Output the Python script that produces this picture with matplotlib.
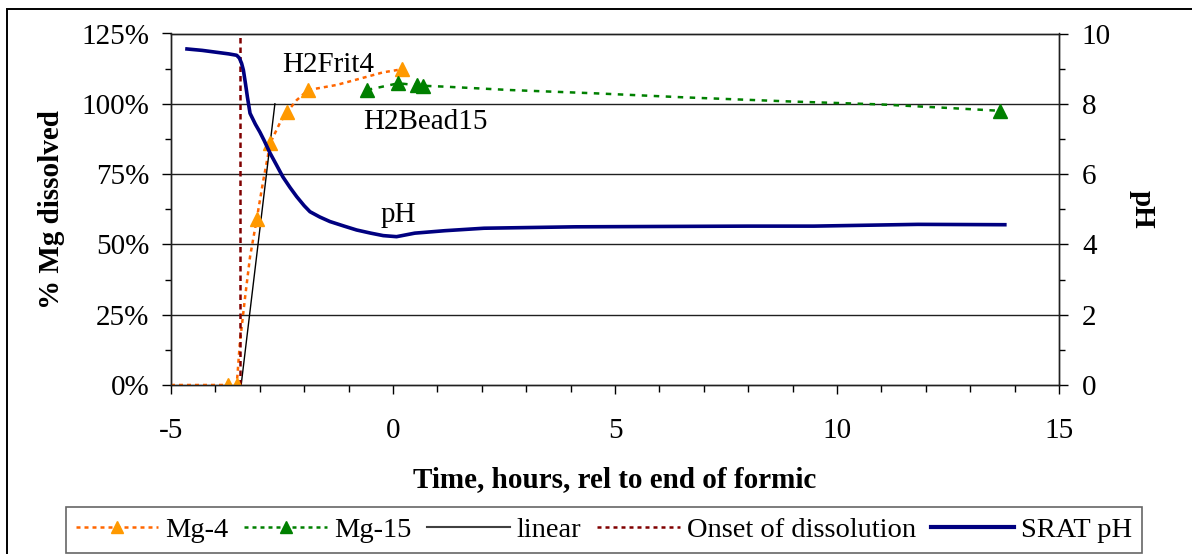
import matplotlib
matplotlib.use("Agg")
import matplotlib.pyplot as plt
from matplotlib.ticker import MultipleLocator, FuncFormatter
from matplotlib.lines import Line2D
from matplotlib.patches import Rectangle

plt.rcParams['font.family'] = ['Liberation Serif', 'DejaVu Serif']
plt.rcParams['axes.unicode_minus'] = False

# ---- data ----
# Mg-4 (H2Frit4) measured points, % dissolved
mg4_t = [-3.71, -3.52, -3.07, -2.76, -2.38, -1.91, 0.21]
mg4_v = [0.0, 0.0, 58.9, 86.2, 97.2, 104.9, 112.3]
# Mg-4 smoothed dotted curve
mg4_curve_t = [-5.0, -3.71, -3.52, -3.45, -3.33, -3.22, -3.07, -2.92, -2.76, -2.55,
               -2.38, -2.17, -1.91, -1.27, -0.59, -0.22, 0.21]
mg4_curve_v = [0.0, 0.0, 0.0, 14.8, 31.4, 45.6, 58.9, 72.9, 86.2, 93.1,
               97.2, 101.3, 104.9, 106.7, 109.6, 111.2, 112.3]

# Mg-15 (H2Bead15) measured points
mg15_t = [-0.59, 0.12, 0.55, 0.68, 13.68]
mg15_v = [104.9, 107.3, 106.6, 106.4, 97.5]
# Mg-15 dotted curve
mg15_curve_t = [-0.59, 0.12, 0.55, 0.68, 1.17, 2.63, 4.59, 6.55, 8.99, 10.95, 12.41, 13.68]
mg15_curve_v = [104.9, 107.3, 106.6, 106.4, 106.1, 104.9, 103.7, 102.3, 100.8, 99.8, 98.6, 97.5]

# linear fit
linear_t = [-3.42, -2.66]
linear_v = [0.0, 100.0]

# onset of dissolution
onset_t = -3.45

# SRAT pH
ph_t = [-4.64, -4.3, -4.0, -3.7, -3.52, -3.46, -3.41, -3.37, -3.32, -3.28, -3.22,
        -3.1, -3.0, -2.9, -2.77, -2.62, -2.48, -2.32, -2.17, -2.0, -1.87, -1.65,
        -1.42, -1.1, -0.82, -0.5, -0.22, 0.08, 0.49, 1.17, 2.05, 4.1, 6.0,
        8.0, 9.48, 11.82, 13.78]
ph_v = [9.56, 9.52, 9.47, 9.42, 9.38, 9.3, 9.15, 8.96, 8.55, 8.2, 7.73,
        7.42, 7.2, 6.95, 6.6, 6.25, 5.92, 5.62, 5.36, 5.1, 4.93, 4.78,
        4.65, 4.52, 4.41, 4.32, 4.25, 4.22, 4.32, 4.39, 4.46, 4.5, 4.51,
        4.52, 4.52, 4.57, 4.56]

yticks_pct = [0, 25, 50, 75, 100, 125]
xticks = [-5, 0, 5, 10, 15]
ph_ticks = [0, 2, 4, 6, 8, 10]

# ---- figure ----
W, H = 1192, 554
fig = plt.figure(figsize=(W / 100, H / 100), dpi=100)
ax = fig.add_axes([171 / W, 1 - 385 / H, (1059 - 171) / W, (385 - 33.5) / H])
ax2 = ax.twinx()

orange_line = '#FF6600'
orange_mark = '#FF9900'
green = '#008000'
navy = '#000080'
dred = '#800000'

# grid lines
for v in yticks_pct[1:]:
    ax.axhline(v, color='#202020', lw=1.0, zorder=1)

ax.plot(mg4_curve_t, mg4_curve_v, color=orange_line, lw=1.8, ls=(0, (1.6, 1.6)), zorder=3)
ax.plot(mg4_t, mg4_v, ls='none', marker='^', ms=10, color=orange_mark, mec=orange_mark, zorder=5)
ax.plot(mg15_curve_t, mg15_curve_v, color=green, lw=1.8, ls=(0, (2.2, 2.6)), zorder=3)
ax.plot(mg15_t, mg15_v, ls='none', marker='^', ms=10, color=green, mec=green, zorder=5)
ax.plot(linear_t, linear_v, color='black', lw=1.0, zorder=4)
ax.plot([onset_t, onset_t], [0, 125], color=dred, lw=1.8, ls=(0, (2.2, 1.6)), zorder=4)

ax2.plot(ph_t, ph_v, color=navy, lw=2.6, zorder=4)

ax.set_xlim(-5, 15)
ax.set_ylim(0, 125)
ax2.set_ylim(0, 10)
ax.set_xticks(xticks)
ax.xaxis.set_minor_locator(MultipleLocator(1))
ax.set_yticks(yticks_pct)
ax.yaxis.set_minor_locator(MultipleLocator(12.5))
ax.yaxis.set_major_formatter(FuncFormatter(lambda v, p: f"{int(v)}%"))
ax2.set_yticks(ph_ticks)
ax2.yaxis.set_minor_locator(MultipleLocator(1))

fs = 21
ax.tick_params(axis='both', which='major', direction='out', length=6.5, width=1.0,
               labelsize=fs)
ax.tick_params(axis='both', which='minor', direction='out', length=4.5, width=1.0)
ax.tick_params(axis='x', which='minor', length=5)
ax.tick_params(axis='y', which='major', pad=9)
ax.tick_params(axis='x', which='major', pad=17)
ax2.tick_params(axis='y', which='major', direction='out', length=6.5, width=1.0,
                labelsize=fs, pad=10)
ax2.tick_params(axis='y', which='minor', direction='out', length=4.5, width=1.0)

for a in (ax, ax2):
    for s in a.spines.values():
        s.set_color('#202020')
        s.set_linewidth(1.0)

ax.set_xlabel('Time, hours, rel to end of formic', fontsize=21, fontweight='bold', labelpad=16)
ax.set_ylabel('% Mg dissolved', fontsize=21, fontweight='bold', labelpad=12)
ax2.set_ylabel('pH', fontsize=21, fontweight='bold', rotation=-90, labelpad=32)

ax.text(-1.46, 113.8, 'H2Frit4', fontsize=21, ha='center', va='center', zorder=6)
ax.text(0.72, 93.4, 'H2Bead15', fontsize=21, ha='center', va='center', zorder=6)
ax.text(0.11, 60.5, 'pH', fontsize=21, ha='center', va='center', zorder=6)

handles = [
    Line2D([], [], color=orange_line, lw=1.8, ls=(0, (1.6, 1.6)), marker='^', ms=9,
           mfc=orange_mark, mec=orange_mark),
    Line2D([], [], color=green, lw=1.8, ls=(0, (1.6, 1.6)), marker='^', ms=9,
           mfc=green, mec=green),
    Line2D([], [], color='#404040', lw=1.5),
    Line2D([], [], color=dred, lw=1.8, ls=(0, (1.6, 1.6))),
    Line2D([], [], color=navy, lw=3.0),
]
labels = ['Mg-4', 'Mg-15', 'linear', 'Onset of dissolution', 'SRAT pH']
leg = fig.legend(handles, labels, loc='center', bbox_to_anchor=(604 / W, 1 - 530 / H),
                 ncol=5, fontsize=20.5, frameon=True, fancybox=False, edgecolor='#404040',
                 handlelength=2.9, columnspacing=0.55, handletextpad=0.25,
                 borderpad=0.35, borderaxespad=0)
leg.get_frame().set_linewidth(1.2)

fig.patches.append(Rectangle((7 / W, -0.1), 1.2, 1.1 - 9.5 / H, transform=fig.transFigure,
                             fill=False, edgecolor='black', lw=1.4))

fig.savefig('out.png', dpi=100)
